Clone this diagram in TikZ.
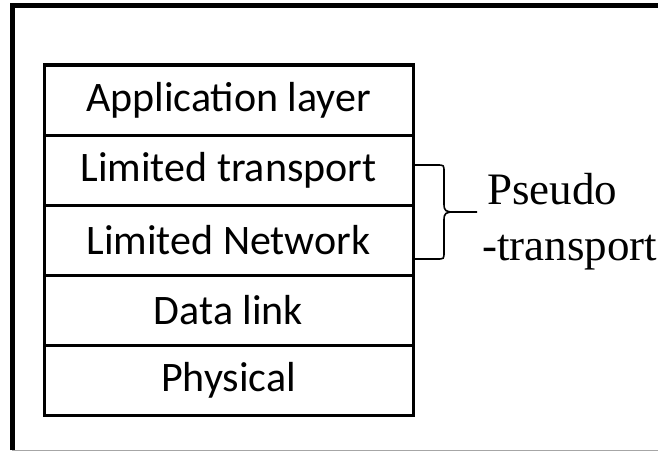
\documentclass[tikz,border=0pt]{standalone}
\usepackage{fontspec}
\newfontfamily\layerfont{Carlito}
\newfontfamily\notefont{Liberation Serif}
\usetikzlibrary{positioning}

\tikzset{
  layer/.style={draw, line width=3pt, outer sep=0pt, minimum width=369pt,
    minimum height=70pt, inner sep=0pt, font=\layerfont\fontsize{42}{50}\selectfont},
  brace/.style={line width=1.6pt},
  note/.style={align=left, inner sep=0pt, font=\notefont\fontsize{45}{56}\selectfont}
}

\begin{document}
\begin{tikzpicture}[x=1pt,y=-1pt]
  \useasboundingbox (0,0) rectangle (658,452);

  % frame
  \draw[line width=5pt] (12.5,450) -- (12.5,5.5) -- (658,5.5);
  \draw[gray!70, line width=1.5pt] (12,450.5) -- (658,450.5);

  % protocol stack
  \node[layer] (app) at (228.5,100) {Application layer};
  \node[layer, below=0pt of app] (trans) {Limited transport};
  \node[layer, below=0pt of trans] (net) {Limited Network};
  \node[layer, below=0pt of net] (link) {Data link};
  \node[layer, below=0pt of link] (phys) {Physical};

  % brace
  \coordinate (bt) at (414.5,165);
  \coordinate (bb) at (414.5,259);
  \coordinate (tip) at (477,212);
  \draw[brace] (bt) -- (437,165) .. controls (444,165) .. (444,172) -- (444,204)
    .. controls (444,211) and (446,212) .. (454,212) -- (tip);
  \draw[brace] (bb) -- (437,259) .. controls (444,259) .. (444,252) -- (444,220)
    .. controls (444,213) and (446,212) .. (454,212);

  \node[note, anchor=west] (pseudo) at (482,222) {\hspace*{5pt}Pseudo\\-transport};
\end{tikzpicture}
\end{document}
